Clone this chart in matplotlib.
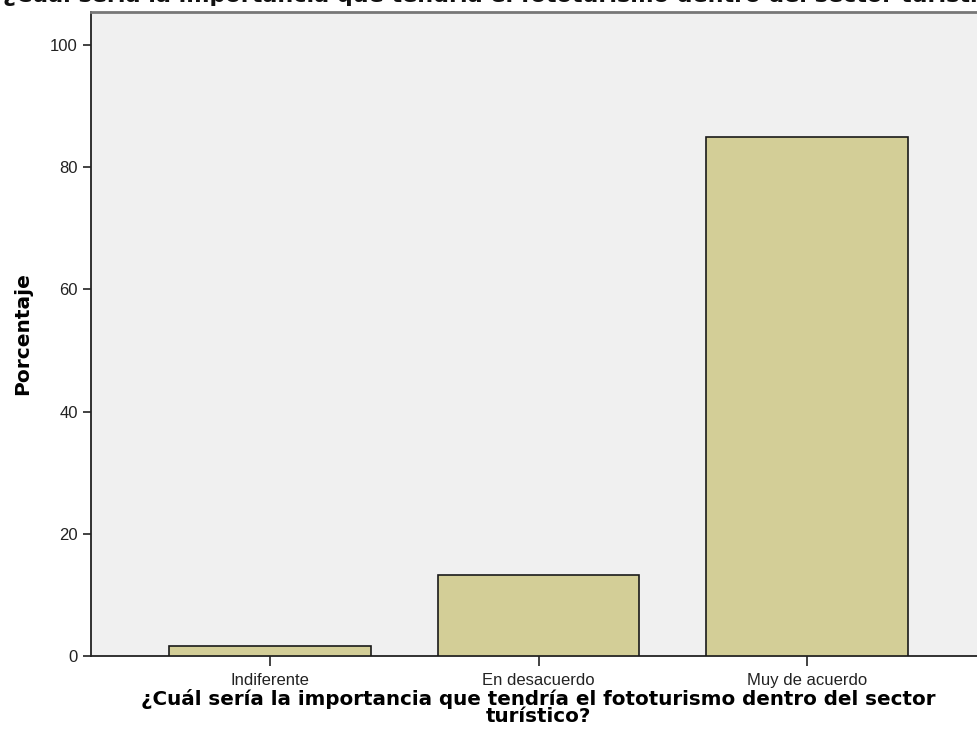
import matplotlib
matplotlib.use("Agg")
import matplotlib.pyplot as plt

categories = ["Indiferente", "En desacuerdo", "Muy de acuerdo"]
percentages = [1.7, 13.3, 85.0]
yticks = [0, 20, 40, 60, 80, 100]
question = "¿Cuál sería la importancia que tendría el fototurismo dentro del sector turístico?"
xlabel_text = "¿Cuál sería la importancia que tendría el fototurismo dentro del sector\nturístico?"
ylabel_text = "Porcentaje"

W, H = 978, 753
fig = plt.figure(figsize=(W / 100, H / 100), dpi=100)
fig.patch.set_facecolor("white")

left, right, top, bottom = 91, 986, 12, 656
aw, ah = right - left, bottom - top
ax = fig.add_axes([left / W, 1 - bottom / H, aw / W, ah / H])
ax.set_facecolor("#f0f0f0")

x = list(range(len(categories)))
ax.bar(x, percentages, width=0.75, color="#d3ce97", edgecolor="#1a1a1a", linewidth=1.2, zorder=3)

ax.set_xlim(-0.667, 2.667)
ax.set_ylim(0, 105.4)
ax.set_yticks(yticks)
ax.set_yticklabels([str(t) for t in yticks], fontsize=12, family="Liberation Sans", color="#222222")
ax.set_xticks(x)
ax.set_xticklabels(categories, fontsize=12, family="Liberation Sans", color="#222222")
ax.tick_params(axis="y", direction="out", length=5.5, width=1.2, color="#222222", pad=4)
ax.tick_params(axis="x", direction="out", length=7, width=1.2, color="#222222", pad=5.5)

for s in ["left", "bottom"]:
    ax.spines[s].set_color("#222222")
    ax.spines[s].set_linewidth(1.3)
ax.spines["top"].set_color("#777777")
ax.spines["top"].set_linewidth(2.0)
ax.spines["right"].set_visible(False)

ax.set_ylabel(ylabel_text, fontsize=14.5, fontweight="bold", family="DejaVu Sans")
ax.yaxis.set_label_coords((32 - left) / aw, 0.5)
ax.set_xlabel(xlabel_text, fontsize=14.3, fontweight="bold", family="DejaVu Sans",
              linespacing=0.85)
ax.xaxis.set_label_coords(0.5, (bottom - 689) / ah)

fig.text(3 / W, 1 - 2 / H, question, ha="left", va="baseline", fontsize=16,
         fontweight="bold", family="DejaVu Sans", color="#111111")

fig.savefig("out.png", dpi=100)
